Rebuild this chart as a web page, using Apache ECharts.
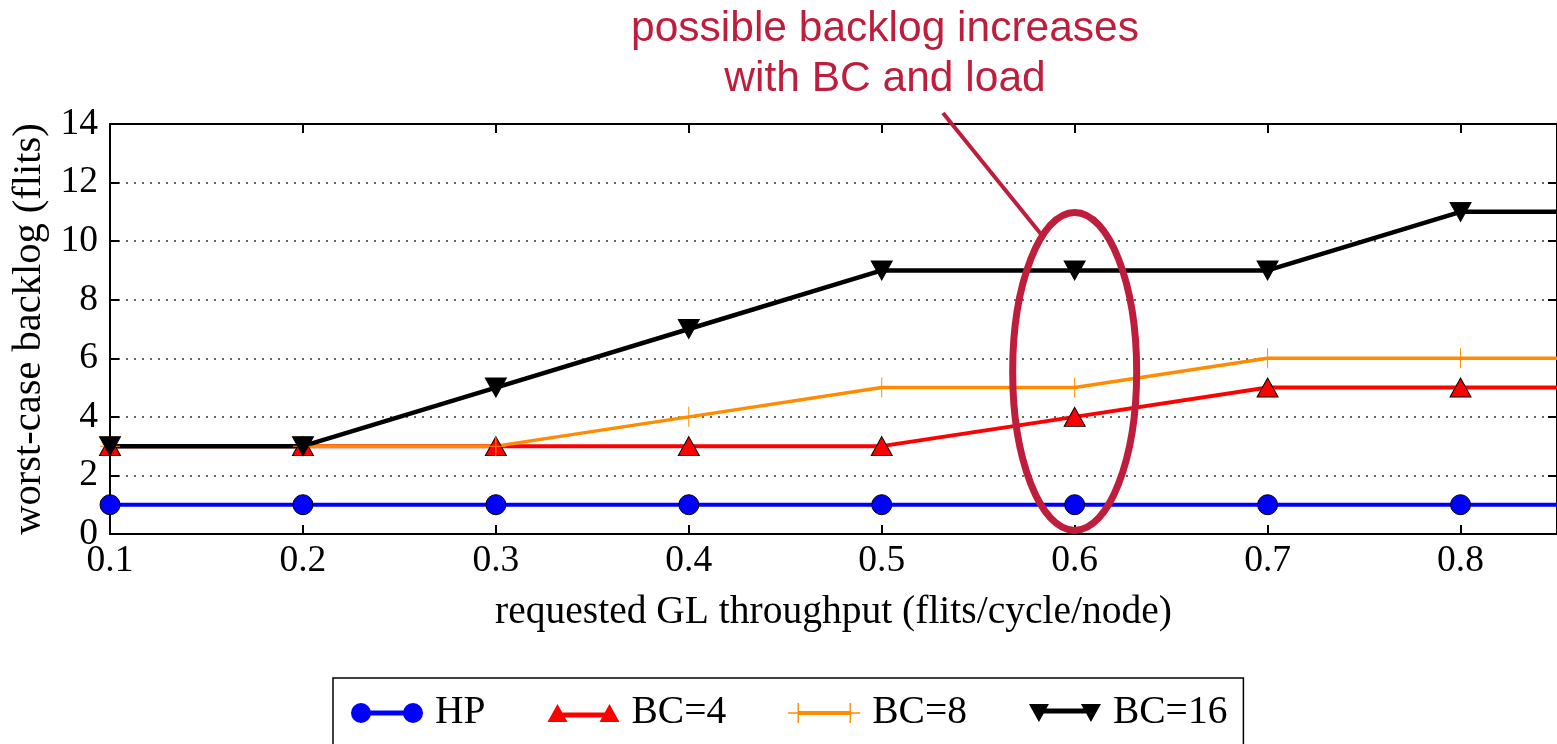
<!DOCTYPE html>
<html><head><meta charset="utf-8">
<script src="https://cdn.jsdelivr.net/npm/echarts@6/dist/echarts.min.js"></script>
<style>html,body{margin:0;padding:0;background:#fff}#c{width:1557px;height:744px}</style>
</head><body><div id="c"></div>
<script>
const xValues = [0.1, 0.2, 0.3, 0.4, 0.5, 0.6, 0.7, 0.8, 0.9];
const hp    = [1, 1, 1, 1, 1, 1, 1, 1, 1];
const bc4   = [3, 3, 3, 3, 3, 4, 5, 5, 5];
const bc8   = [3, 3, 3, 4, 5, 5, 6, 6, 6];
const bc16  = [3, 3, 5, 7, 9, 9, 9, 11, 11];
const seriesNames = ['HP', 'BC=4', 'BC=8', 'BC=16'];
const annotationLines = ['possible backlog increases', 'with BC and load'];

const serif = '"Liberation Serif","Times New Roman",serif';
const sans = '"Liberation Sans",Arial,sans-serif';
const red2 = '#BE1E3C';

function pairs(ys){ return xValues.map((x,i)=>[x, ys[i]]); }

const icons = {
  'HP': 'path://M0,10 A10,10 0 1,1 20,10 A10,10 0 1,1 0,10 Z M52,10 A10,10 0 1,1 72,10 A10,10 0 1,1 52,10 Z M10,7.5 L62,7.5 L62,12.5 L10,12.5 Z',
  'BC=4': 'path://M0,20 L10,2 L20,20 Z M52,20 L62,2 L72,20 Z M10,10.5 L62,10.5 L62,15.5 L10,15.5 Z',
  'BC=8': 'path://M0,9.3 L20,9.3 L20,10.7 L0,10.7 Z M9.3,0 L10.7,0 L10.7,20 L9.3,20 Z M52,9.3 L72,9.3 L72,10.7 L52,10.7 Z M61.3,0 L62.7,0 L62.7,20 L61.3,20 Z M10,8 L62,8 L62,12 L10,12 Z',
  'BC=16': 'path://M0,0 L20,0 L10,18 Z M52,0 L72,0 L62,18 Z M10,4.5 L62,4.5 L62,9.5 L10,9.5 Z'
};

const chart = echarts.init(document.getElementById('c'));
const axisLineStyle = {color:'#000', width:2};
const option = {
  animation: false,
  grid: {left:110, right:-3, top:124, bottom:210, containLabel:false},
  xAxis: [{
    type:'value', min:0.1, max:0.85, interval:0.1, position:'bottom',
    name:'requested GL throughput (flits/cycle/node)', nameLocation:'middle', nameGap:59,
    nameTextStyle:{fontFamily:serif, fontSize:39.5, color:'#000'},
    axisLine:{show:true, onZero:false, lineStyle:axisLineStyle},
    axisTick:{show:true, inside:true, length:9, lineStyle:{color:'#000', width:2}},
    axisLabel:{fontFamily:serif, fontSize:37.5, color:'#000', margin:8, showMaxLabel:false,
      formatter: v => v.toFixed(1)},
    splitLine:{show:false}
  },{
    type:'value', min:0.1, max:0.85, interval:0.1, position:'top',
    axisLine:{show:true, onZero:false, lineStyle:axisLineStyle},
    axisTick:{show:true, inside:true, length:9, lineStyle:{color:'#000', width:2}},
    axisLabel:{show:false}, splitLine:{show:false}
  }],
  yAxis: [{
    type:'value', min:0, max:14, interval:2, position:'left',
    name:'worst-case backlog (flits)', nameLocation:'middle', nameGap:60, nameRotate:90,
    nameTextStyle:{fontFamily:serif, fontSize:40.5, color:'#000'},
    axisLine:{show:true, onZero:false, lineStyle:axisLineStyle},
    axisTick:{show:true, inside:true, length:9, lineStyle:{color:'#000', width:2}},
    axisLabel:{fontFamily:serif, fontSize:37.5, color:'#000', margin:12},
    splitLine:{show:true, lineStyle:{color:'#333', width:1.5, type:[2,6]}}
  },{
    type:'value', min:0, max:14, interval:2, position:'right',
    axisLine:{show:true, onZero:false, lineStyle:axisLineStyle},
    axisTick:{show:true, inside:true, length:9, lineStyle:{color:'#000', width:2}},
    axisLabel:{show:false}, splitLine:{show:false}
  }],
  legend: {
    left:333, top:678, orient:'horizontal',
    padding:[15,16,30,18], itemGap:62, itemWidth:72, itemHeight:20,
    borderColor:'#000', borderWidth:1.5,
    textStyle:{fontFamily:serif, fontSize:39.5, color:'#000', padding:[0,0,0,7]},
    data: seriesNames.map(n => ({name:n, icon:icons[n], itemStyle:{borderWidth:0}}))
  },
  series: [
    {name:'HP', type:'line', data:pairs(hp), clip:true, symbol:'circle', symbolSize:20,
      lineStyle:{color:'#0000FF', width:4}, itemStyle:{color:'#0000FF', borderColor:'#000', borderWidth:1}},
    {name:'BC=4', type:'line', data:pairs(bc4), clip:true, symbol:'triangle', symbolSize:[21,19],
      lineStyle:{color:'#FF0000', width:4}, itemStyle:{color:'#FF0000', borderColor:'#000', borderWidth:1}},
    {name:'BC=8', type:'line', data:pairs(bc8), clip:true,
      symbol:'path://M0,9.5 L20,9.5 L20,10.5 L0,10.5 Z M9.5,0 L10.5,0 L10.5,20 L9.5,20 Z', symbolSize:20,
      lineStyle:{color:'#FF8C00', width:3.5}, itemStyle:{color:'#FF8C00', borderWidth:0}},
    {name:'BC=16', type:'line', data:pairs(bc16), clip:true, symbol:'triangle', symbolRotate:180, symbolSize:[21,19],
      lineStyle:{color:'#000', width:4.5}, itemStyle:{color:'#000', borderColor:'#000', borderWidth:1}}
  ]
};
chart.setOption(option);

// annotation: ellipse around the 0.6 column plus a callout line and text
const c = chart.convertToPixel({gridIndex:0}, [0.6, 5.55]);
const rx = 62, ry = 159;
const ang = -2.12; // point on upper-left of ellipse
const ex = c[0] + rx*Math.cos(ang), ey = c[1] + ry*Math.sin(ang);
chart.setOption({
  graphic: [
    {type:'ellipse', shape:{cx:c[0], cy:c[1], rx:rx, ry:ry}, style:{fill:'none', stroke:red2, lineWidth:7}, z:100},
    {type:'line', shape:{x1:943, y1:113, x2:ex, y2:ey}, style:{stroke:red2, lineWidth:4}, z:100},
    {type:'text', x:885, y:29, style:{text:annotationLines[0], fill:red2, font:'42.5px ' + sans, textAlign:'center', textVerticalAlign:'middle'}, z:100},
    {type:'text', x:885, y:79, style:{text:annotationLines[1], fill:red2, font:'42.5px ' + sans, textAlign:'center', textVerticalAlign:'middle'}, z:100}
  ]
});
</script></body></html>
